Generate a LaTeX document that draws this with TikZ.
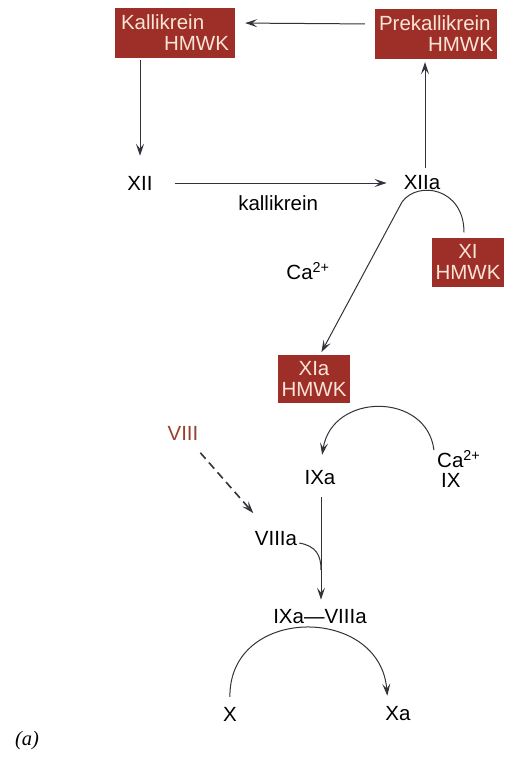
\documentclass[tikz,border=0pt]{standalone}
\usepackage{fontspec}
\setmainfont{Liberation Sans}
\newfontfamily\capfont{Liberation Serif}
\usetikzlibrary{arrows.meta}
\definecolor{boxred}{RGB}{158,46,40}
\definecolor{boxtext}{RGB}{250,228,214}
\definecolor{viiired}{RGB}{150,66,44}
\definecolor{linegray}{RGB}{50,50,58}

\begin{document}
\begin{tikzpicture}[x=1pt,y=-1pt,
        font=\fontsize{20.5}{21}\selectfont,
        factor/.style={inner sep=2pt},
        cplx/.style={fill=boxred,text=boxtext,inner ysep=3pt},
        arr/.style={draw=linegray,line width=1pt,
            -{Stealth[length=12pt,width=8pt,inset=5pt]}}]

    \useasboundingbox (0,0) rectangle (504,758);

    % Contact phase
    \node[cplx,inner xsep=6pt,minimum width=120pt,minimum height=50pt,
        text width=108pt,align=left] (kal) at (175,33) {Kallikrein\\\hspace*{\fill}HMWK};
    \node[cplx,inner xsep=4pt,minimum width=122pt,minimum height=50pt,
        text width=114pt,align=left] (pk) at (436,34) {Prekallikrein\\\hspace*{\fill}HMWK};
    \node[factor] (xii) at (140,183) {XII};
    \node[factor] (xiia) at (422,183) {XIIa};

    % Factor XI
    \node[cplx,minimum width=68pt,minimum height=49pt,align=center] (xi) at (468,262) {XI\\HMWK};
    \node[factor] (ca1) at (308,271) {Ca\textsuperscript{2+}};
    \node[cplx,minimum width=72pt,minimum height=48pt,align=center] (xia) at (314,379) {XIa\\HMWK};

    % Factor IX
    \node[factor,anchor=west] (cab) at (435,459) {Ca\textsuperscript{2+}};
    \node[factor,anchor=west] (ix) at (439,480) {IX};
    \node[factor] (ixa) at (320,478) {IXa};
    \node[factor,text=viiired] (viii) at (183,433) {VIII};
    \node[factor] (viiia) at (276,539) {VIIIa};
    \coordinate (merge) at (321,570);

    % Tenase
    \node[factor] (ixviii) at (320,617) {IXa---VIIIa};
    \node[factor] (x) at (230,714) {X};
    \node[factor] (xa) at (398,714) {Xa};
    \node[factor,font=\capfont\itshape\fontsize{20.5}{21}\selectfont] (lab) at (27,741) {(a)};

    % Edges
    \draw[arr,shorten <=10pt,shorten >=10pt] ([yshift=10pt]pk.west) -- ([yshift=10pt]kal.east);
    \draw[arr,shorten <=2pt,shorten >=18pt] (kal.south -| xii) -- (xii.north);
    \draw[arr,shorten <=20pt,shorten >=15pt] (xii.east) -- (xiia.west)
        node[midway,below=9pt,text=black] (kallik) {kallikrein};
    \draw[arr,shorten <=6pt,shorten >=3pt] ([xshift=3pt]xiia.north) -- ([xshift=3pt]xiia.north |- pk.south);
    \draw[arr,shorten <=5pt,shorten >=3pt] ([xshift=-4pt]xi.north)
        .. controls (464,188) and (418,180) .. (402,202) -- ([xshift=6pt]xia.north);
    \draw[arr,shorten <=9pt,shorten >=14pt] (cab.west)
        .. controls (427,392) and (332,392) .. (ixa.north);
    \draw[arr,dash pattern=on 8pt off 5pt,line width=1.6pt,shorten <=14pt,shorten >=22pt] (viii) -- (viiia);
    \draw[arr,shorten <=10pt,shorten >=8pt] ([xshift=1pt]ixa.south) -- ([xshift=1pt]ixviii.north);
    \draw[draw=linegray,line width=1pt] ([yshift=-4pt]viiia.east)
        .. controls (316,546) and (321,555) .. (merge);
    \draw[arr,shorten <=8pt,shorten >=9pt] (x.north)
        .. controls (229,605) and (380,605) .. ([xshift=-10pt]xa.north);
\end{tikzpicture}
\end{document}
